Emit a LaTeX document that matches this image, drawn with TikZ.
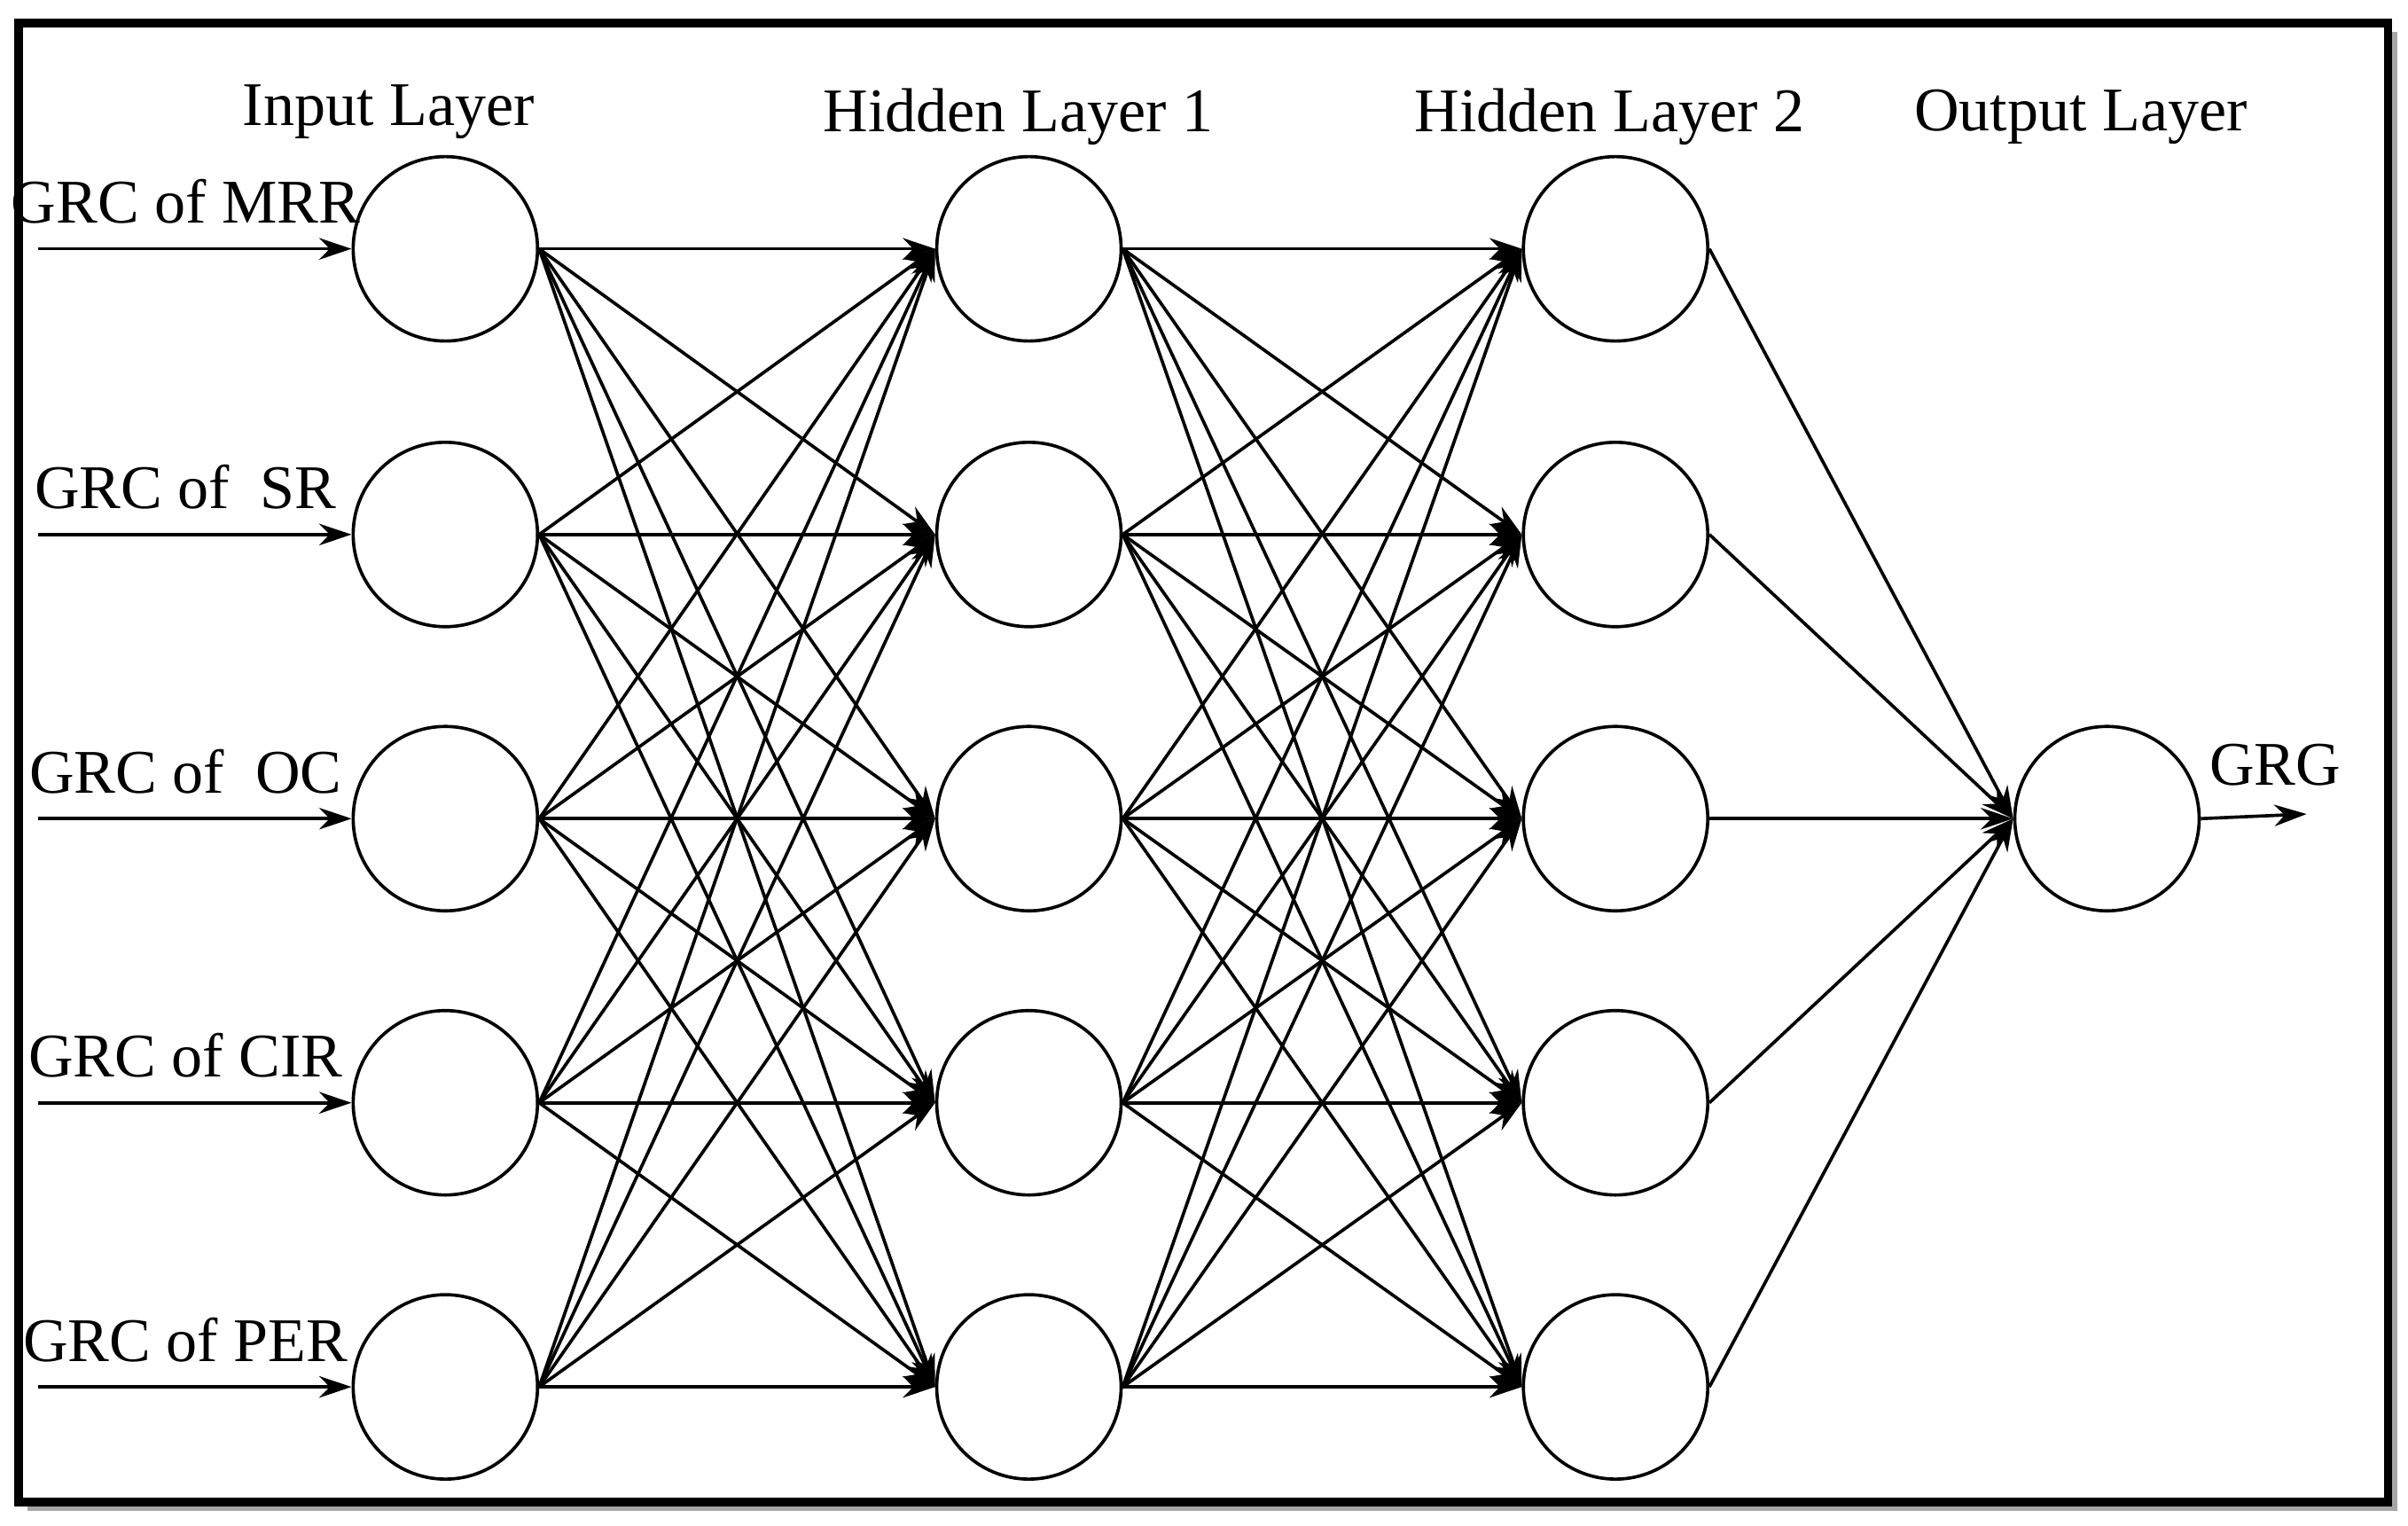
\documentclass[tikz,border=0pt]{standalone}
\usepackage{fontspec}
\setmainfont{Liberation Serif}
\usetikzlibrary{arrows.meta}
\begin{document}
\begin{tikzpicture}[x=0.01cm,y=-0.01cm,
  neuron/.style={circle,draw,line width=0.6pt,minimum size=1.2cm,inner sep=0pt},
  conn/.style={line width=0.6pt,-{Stealth[length=6pt,width=4pt]}},
  lbl/.style={font=\fontsize{11.5}{13}\selectfont}]
\useasboundingbox (0,0) rectangle (1568,993);
\fill[gray!70] (18,21) rectangle (1561,984);
\draw[line width=1.6pt,fill=white] (12,15) rectangle (1555,978);
\foreach \y [count=\i] in {162,348,533,718,903}{
  \node[neuron] (i\i) at (290,\y) {};
  \node[neuron] (a\i) at (670,\y) {};
  \node[neuron] (b\i) at (1052,\y) {};
}
\node[neuron] (o) at (1372,533) {};
\node[lbl] at (253,73) {Input Layer};
\node[lbl] at (663,76) {Hidden Layer 1};
\node[lbl] at (1048,76) {Hidden Layer 2};
\node[lbl] at (1355,76) {Output Layer};
\foreach \t/\y [count=\i] in {GRC of MRR/162,GRC of \ SR/348,GRC of \ OC/533,GRC of CIR/718,GRC of PER/903}{
  \coordinate (s\i) at (25,\y);
  \draw[conn] (s\i) -- (i\i.west) node[lbl,pos=0.47,above=1pt] {\t};
}
\foreach \i in {1,...,5}\foreach \j in {1,...,5}{
  \draw[conn] (i\i.east) -- (a\j.west);
  \draw[conn] (a\i.east) -- (b\j.west);
}
\foreach \i in {1,...,5}\draw[conn] (b\i.east) -- (o.west);
\coordinate (e) at (1502,530);
\draw[conn] (o.east) -- (e) node[lbl,midway,above=2pt,xshift=4pt] {GRG};
\end{tikzpicture}
\end{document}
